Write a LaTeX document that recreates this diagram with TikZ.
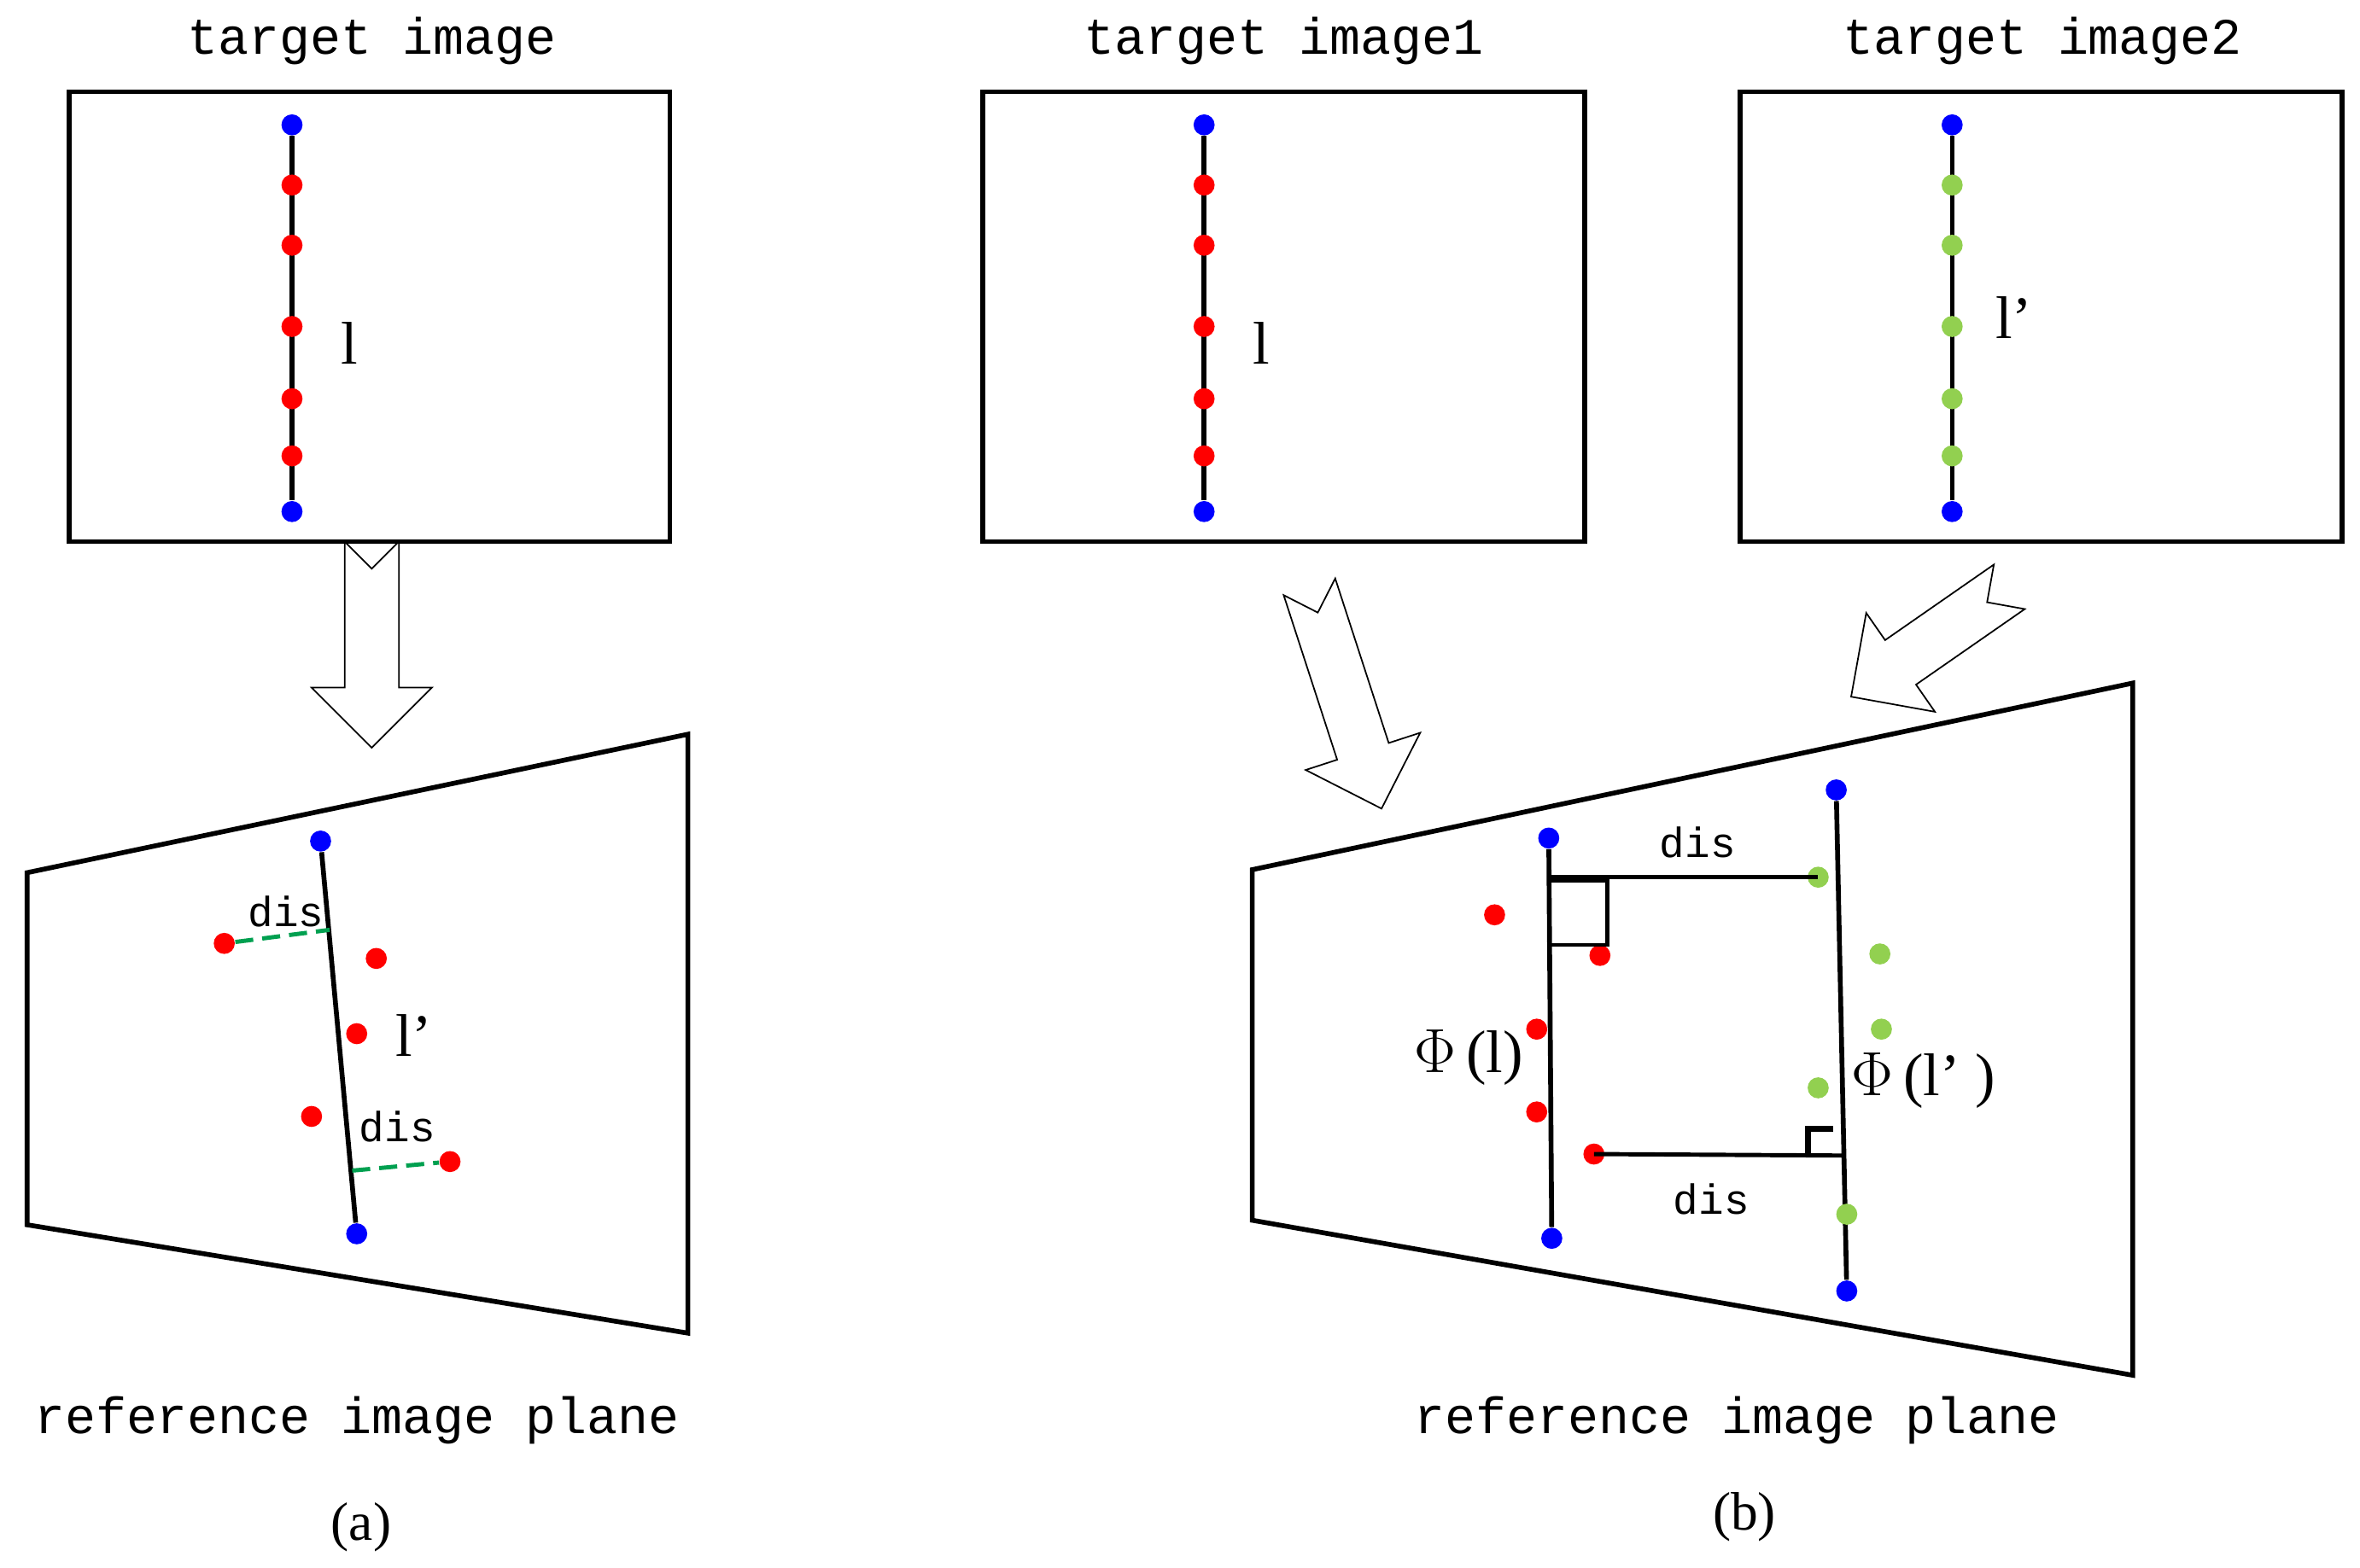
\documentclass[tikz,border=0pt]{standalone}
\usepackage{fontspec}
\setmainfont{Liberation Serif}
\newfontfamily\monof{Liberation Mono}
\begin{document}
\begin{tikzpicture}[x=0.5pt,y=-0.5pt,
  box/.style={line width=1.6pt},
  ln/.style={line width=1.6pt},
  dot/.style={circle,inner sep=0pt,minimum size=7pt},
  bd/.style={dot,fill=blue},
  rd/.style={dot,fill=red},
  gd/.style={dot,fill={rgb,255:red,146;green,208;blue,80}},
  mono/.style={font=\monof\fontsize{17}{20}\selectfont},
  dis/.style={font=\monof\fontsize{14}{16}\selectfont},
  lab/.style={font=\fontsize{20}{24}\selectfont},
  gdash/.style={dash pattern=on 6pt off 3pt,line width=1.4pt,color={rgb,255:red,0;green,160;blue,80}},
  harrow/.style={line width=0.5pt,fill=white}]
\useasboundingbox (0,0) rectangle (1568,1042);
\newcommand\harr[3]{\draw[harrow,shift={(#1)},rotate=#2] (0,-18)--(18,0)--(0,18)--(#3-40,18)--(#3-40,40)--(#3,0)--(#3-40,-40)--(#3-40,-18)--cycle;}
% (a)
\node[mono] (ta) at (247,27) {target image};
\draw[box] (46,61) rectangle (445,360);
\node[bd] (a1) at (194,83) {}; \node[bd] (a7) at (194,340) {};
\draw[ln] (a1) -- (a7);
\foreach \y/\n in {123/2,163/3,217/4,265/5,303/6} \node[rd] (a\n) at (194,\y) {};
\node[lab] at (232,228) {l};
\harr{247,360}{-90}{137}
\draw[box] (18,580)--(457,488)--(457,886)--(18,814)--cycle;
\node[bd] (p1) at (213,559) {}; \node[bd] (p2) at (237,820) {};
\draw[ln] (p1) -- (p2);
\node[rd] (r1) at (149,627) {}; \node[rd] at (250,637) {}; \node[rd] at (237,687) {};
\node[rd] at (207,742) {}; \node[rd] (r5) at (299,772) {};
\coordinate (f1) at (219,618); \coordinate (f2) at (234,778);
\draw[gdash] (r1) -- (f1);
\draw[gdash] (f2) -- (r5);
\node[dis] at (190,606) {dis}; \node[dis] at (264,749) {dis};
\node[lab] at (275,688) {l’};
\node[mono] at (237,944) {reference image plane};
\node[lab,font=\fontsize{18}{22}\selectfont] at (240,1015) {(a)};
% (b) top
\node[mono] at (853,27) {target image1};
\draw[box] (653,61) rectangle (1053,360);
\node[bd] (b1) at (800,83) {}; \node[bd] (b7) at (800,340) {};
\draw[ln] (b1) -- (b7);
\foreach \y/\n in {123/2,163/3,217/4,265/5,303/6} \node[rd] (b\n) at (800,\y) {};
\node[lab] at (838,228) {l};
\node[mono] at (1357,27) {target image2};
\draw[box] (1156,61) rectangle (1556,360);
\node[bd] (c1) at (1297,83) {}; \node[bd] (c7) at (1297,340) {};
\draw[ln] (c1) -- (c7);
\foreach \y/\n in {123/2,163/3,217/4,265/5,303/6} \node[gd] (c\n) at (1297,\y) {};
\node[lab] at (1338,211) {l’};
\harr{870,390}{-72}{155}
\harr{1335,390}{214.8}{128}
% (b) bottom
\draw[box] (832,578)--(1417,454)--(1417,914)--(832,811)--cycle;
\node[bd] (q1) at (1029,557) {}; \node[bd] (q2) at (1031,823) {};
\draw[ln] (q1) -- (q2);
\node[bd] (s1) at (1220,525) {}; \node[bd] (s2) at (1227,858) {};
\draw[ln] (s1) -- (s2);
\node[rd] at (993,608) {}; \node[rd] (m2) at (1063,635) {}; \node[rd] at (1021,684) {};
\node[rd] at (1021,739) {}; \node[rd] (m5) at (1059,767) {};
\node[gd] (g1) at (1208,583) {}; \node[gd] at (1249,634) {}; \node[gd] at (1250,684) {};
\node[gd] at (1208,723) {}; \node[gd] at (1227,807) {};
\coordinate (h1) at (1030,583); \coordinate (h2) at (1225,768);
\draw[line width=1.4pt] (h1) -- (g1.center);
\draw[line width=1.4pt] (1030,585) -- (1068,585) -- (1068,628) -- (1030,628);
\draw[line width=1.4pt] (1030,628) -- (1063,628);
\draw[line width=1.4pt] (m5.center) -- (h2);
\draw[line width=2pt] (1201,768) -- (1201,750) -- (1218,750);
\node[dis] at (1128,560) {dis}; \node[dis] at (1137,797) {dis};
\node[lab] at (976,703) {$\Phi$\,(l)};
\node[lab] at (1278,718) {$\Phi$\,(l’ )};
\node[mono] at (1154,944) {reference image plane};
\node[lab,font=\fontsize{18}{22}\selectfont] at (1159,1008) {(b)};
\end{tikzpicture}
\end{document}
